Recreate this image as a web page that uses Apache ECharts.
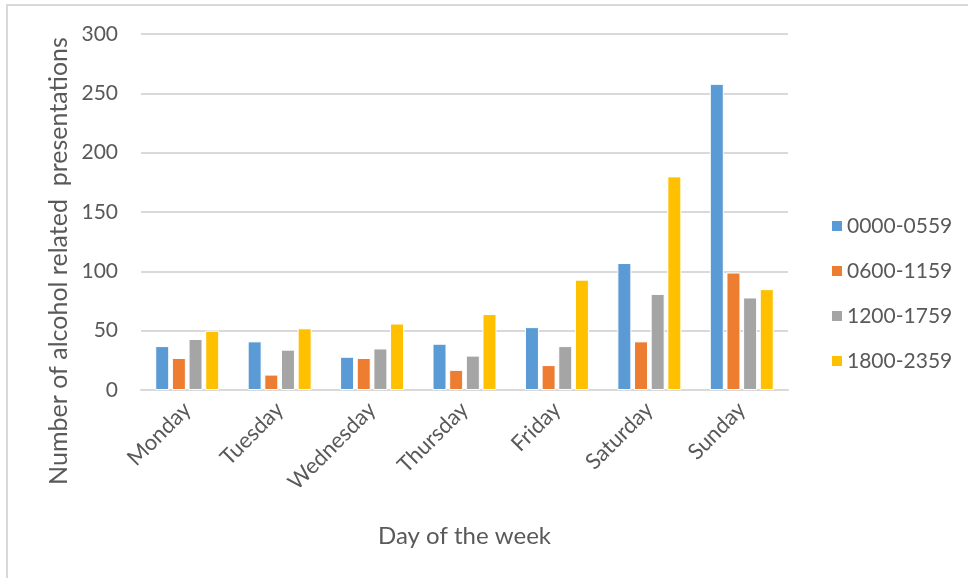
<!DOCTYPE html>
<html>
<head>
<meta charset="utf-8">
<script src="https://cdn.jsdelivr.net/npm/echarts@6/dist/echarts.min.js"></script>
<style>
html,body{margin:0;padding:0;background:#fff;}
#main{width:968px;height:578px;}
</style>
</head>
<body>
<div id="main"></div>
<script>
const days = ['Monday','Tuesday','Wednesday','Thursday','Friday','Saturday','Sunday'];
const seriesNames = ['0000-0559','0600-1159','1200-1759','1800-2359'];
const s0000_0559 = [37, 41, 28, 39, 53, 107, 258];
const s0600_1159 = [27, 13, 27, 17, 21, 41, 99];
const s1200_1759 = [43, 34, 35, 29, 37, 81, 78];
const s1800_2359 = [50, 52, 56, 64, 93, 180, 85];
const colors = ['#5B9BD5','#ED7D31','#A5A5A5','#FFC000'];
const yTicks = [0, 50, 100, 150, 200, 250, 300];

const FONT = 'Lato';
const TXT = '#595959';
const values = [s0000_0559, s0600_1159, s1200_1759, s1800_2359];

const chart = echarts.init(document.getElementById('main'));
chart.setOption({
  animation: false,
  backgroundColor: '#fff',
  textStyle: {fontFamily: FONT},
  grid: {left: 141, top: 34, width: 647, height: 356, containLabel: false},
  legend: {
    orient: 'vertical', left: 830, top: 214, padding: 0,
    itemWidth: 12, itemHeight: 12, itemGap: 21,
    icon: 'rect',
    data: seriesNames,
    textStyle: {fontFamily: FONT, fontSize: 21, color: TXT, lineHeight: 24, padding: [0,0,0,-1]}
  },
  xAxis: {
    type: 'category', data: days,
    name: 'Day of the week', nameLocation: 'middle', nameGap: 134,
    nameTextStyle: {fontFamily: FONT, fontSize: 24, color: TXT},
    axisLine: {show: true, lineStyle: {color: '#d9d9d9', width: 2}},
    axisTick: {show: false},
    axisLabel: {rotate: 45, margin: 16, fontFamily: FONT, fontSize: 22, color: TXT, interval: 0}
  },
  yAxis: {
    type: 'value', min: yTicks[0], max: yTicks[yTicks.length-1], interval: 50,
    axisLine: {show: false}, axisTick: {show: false},
    splitLine: {lineStyle: {color: '#d9d9d9', width: 2}},
    axisLabel: {margin: 23, fontFamily: FONT, fontSize: 21, color: TXT}
  },
  graphic: [
    {type: 'polyline', shape: {points: [[7, 578], [7, 5], [968, 5]]}, style: {stroke: '#d9d9d9', lineWidth: 2, fill: null}},
    {type: 'text', x: 59, y: 261, rotation: Math.PI/2,
     style: {text: 'Number of alcohol related  presentations', fill: TXT, font: '25px Lato', textAlign: 'center', textVerticalAlign: 'middle'}}
  ],
  series: seriesNames.map((n, i) => ({
    name: n, type: 'bar', data: values[i],
    barWidth: 14, barGap: '19%',
    itemStyle: {color: colors[i], borderColor: '#fff', borderWidth: 1}
  }))
});
</script>
</body>
</html>
